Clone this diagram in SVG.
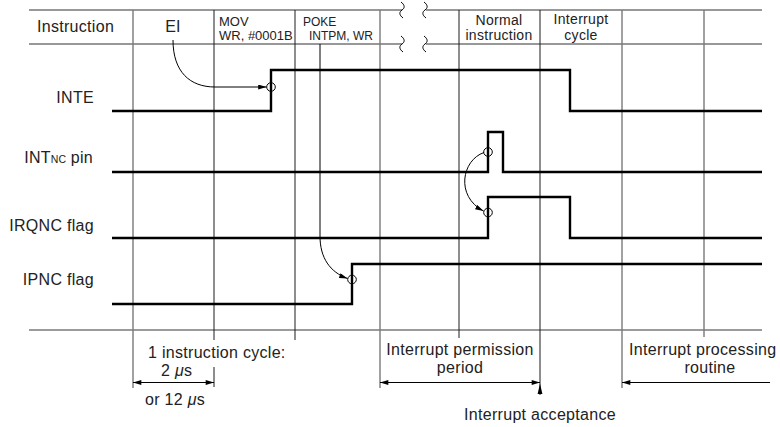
<svg xmlns="http://www.w3.org/2000/svg" width="780" height="427" viewBox="0 0 780 427">
<defs>
<style>
text{font-family:"Liberation Sans",Arial,Helvetica,sans-serif;fill:#222;}
.lbl{font-size:16px;letter-spacing:0.3px;}
.hd{font-size:14px;letter-spacing:0.3px;}
.gk{stroke:#1c1c1c;stroke-width:1;fill:none;}
.gg{stroke:#7a7a7a;stroke-width:1.4;fill:none;}
.hz{stroke:#333;stroke-width:1.2;fill:none;}
.sig{stroke:#000;stroke-width:2.4;fill:none;stroke-linejoin:miter;}
.arr{stroke:#000;stroke-width:1;fill:none;}
.mk{fill:none;stroke:#000;stroke-width:1;}
</style>
<marker id="ah" viewBox="0 0 10 6" refX="10" refY="3" markerWidth="9" markerHeight="5" orient="auto-start-reverse" markerUnits="userSpaceOnUse"><path d="M0,0 L10,3 L0,6 z" fill="#000"/></marker>
<marker id="ad" viewBox="0 0 10 6" refX="10" refY="3" markerWidth="11" markerHeight="5" orient="auto-start-reverse" markerUnits="userSpaceOnUse"><path d="M0,0 L10,3 L0,6 z" fill="#000"/></marker>
<path id="sq" d="M-1,-8 C3,-5 3,-2 0,0 C-3,2 -3,5 1,8"/>
</defs>
<rect width="780" height="427" fill="#fff"/>

<g id="grid">
<path class="hz" d="M29 10 H402 M426 10 H762 M29 44 H402 M426 44 H762"/>
<g class="arr">
<use href="#sq" x="402" y="10"/><use href="#sq" x="425" y="10"/>
<use href="#sq" x="402" y="44"/><use href="#sq" x="425" y="44"/>
</g>
<path class="gg" d="M29 330 H762"/>
<path class="gg" d="M133 10 V388 M380 10 V388 M622 10 V388 M704 10 V337"/>
<path class="gk" d="M214 10 V340 M214 367 V387 M295 10 V340 M459 10 V338 M540 10 V395"/>
</g>

<g id="header">
<text class="lbl" x="37" y="32">Instruction</text>
<text class="lbl" x="173" y="32" text-anchor="middle">EI</text>
<text x="219" y="26" font-size="13">MOV</text>
<text x="219" y="40" font-size="13">WR, #0001B</text>
<text x="303" y="26" font-size="12">POKE</text>
<text x="309" y="40" font-size="12">INTPM, WR</text>
<text class="hd" x="499" y="24.5" text-anchor="middle">Normal</text>
<text class="hd" x="499" y="40" text-anchor="middle">instruction</text>
<text class="hd" x="581" y="24" text-anchor="middle">Interrupt</text>
<text class="hd" x="581" y="40" text-anchor="middle">cycle</text>
</g>

<g id="labels">
<text class="lbl" x="94" y="103" text-anchor="end">INTE</text>
<text class="lbl" x="93" y="163" text-anchor="end">INT<tspan font-size="10.5" letter-spacing="0">NC</tspan> pin</text>
<text class="lbl" x="94" y="231" text-anchor="end">IRQNC flag</text>
<text class="lbl" x="94" y="285" text-anchor="end">IPNC flag</text>
</g>

<g id="signals">
<path id="sig-inte" class="sig" d="M112 111 H271 V70 H570 V111 H762"/>
<path id="sig-intnc" class="sig" d="M112 172 H488 V132 H503 V172 H762"/>
<path id="sig-irqnc" class="sig" d="M112 238 H488 V197 H570 V238 H762"/>
<path id="sig-ipnc" class="sig" d="M112 304 H352 V264 H762"/>
<circle class="mk" cx="271" cy="87" r="4.3"/>
<circle class="mk" cx="488" cy="152" r="4.3"/>
<circle class="mk" cx="488" cy="212.5" r="4.3"/>
<circle class="mk" cx="352" cy="279.5" r="4.3"/>
</g>

<g id="connectors">
<path class="arr" marker-end="url(#ah)" d="M173 40 C173 72 190 87 215 87 L266.5 87"/>
<path class="arr" marker-end="url(#ah)" d="M320 44 L320 236 C320 258 330 272 347.5 278.5"/>
<path class="arr" marker-end="url(#ah)" d="M484 152.5 C462 160 455 196 483.5 211"/>
<path class="arr" marker-start="url(#ad)" marker-end="url(#ad)" d="M133 382.5 H214"/>
<path class="arr" marker-start="url(#ad)" marker-end="url(#ad)" d="M380 382.5 H540"/>
<path class="arr" marker-end="url(#ad)" d="M770 382.5 H622"/>
<path d="M540 383.5 L537.6 394 L542.4 394 Z" fill="#000"/>
</g>

<g id="annotations">
<text class="lbl" x="148" y="358">1 instruction cycle:</text>
<text class="lbl" x="161" y="376">2 <tspan font-style="italic">μ</tspan>s</text>
<text class="lbl" x="145" y="405">or 12 <tspan font-style="italic">μ</tspan>s</text>
<text class="lbl" x="460" y="355" text-anchor="middle">Interrupt permission</text>
<text class="lbl" x="460" y="373" text-anchor="middle">period</text>
<text class="lbl" x="629" y="355">Interrupt processing</text>
<text class="lbl" x="710" y="373" text-anchor="middle">routine</text>
<text class="lbl" x="540" y="420" text-anchor="middle">Interrupt acceptance</text>
</g>
</svg>
